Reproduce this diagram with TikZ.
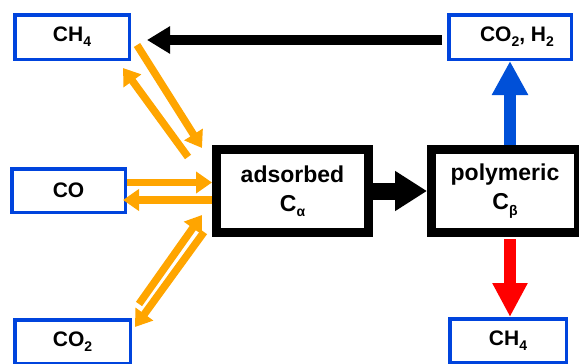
\documentclass[tikz,border=0pt]{standalone}
\usepackage{fontspec}
\setmainfont{Liberation Sans}
\usetikzlibrary{arrows.meta,calc}
\definecolor{boxblue}{RGB}{0,68,221}
\definecolor{arrblue}{RGB}{0,80,216}
\definecolor{flow}{RGB}{255,165,0}
% lowered, smaller index for chemical formulas
\newcommand\sbs[1]{\raisebox{-0.45ex}{\fontsize{14}{14}\selectfont #1}}

\begin{document}
\begin{tikzpicture}[x=1pt,y=-1pt,
  species/.style={draw=boxblue,line width=3.5pt,fill=white,inner sep=0pt,
    font=\fontsize{21}{26}\selectfont\bfseries},
  carbon/.style={draw=black,line width=9pt,inner sep=0pt,align=center,
    font=\fontsize{23}{29}\selectfont\bfseries},
  flowarrow/.style={draw=flow,line width=7.5pt,-{Triangle[length=16pt,width=21pt]}},
  mainarrow/.style={line width=10pt,-{Triangle[length=23pt,width=26pt]}}
]
\useasboundingbox (0,0) rectangle (579,364);

% gas-phase species
\node[species,minimum width=114.5pt,minimum height=44.5pt] (ch4a) at (72,37) {CH\sbs{4}};
\node[species,minimum width=113.5pt,minimum height=43.5pt] (co) at (68.5,190.5) {CO};
\node[species,minimum width=115.5pt,minimum height=43.5pt] (co2a) at (72.5,341.5) {CO\sbs{2}};
\node[species,minimum width=122.5pt,minimum height=44.5pt] (co2h2) at (510,37) {\hspace*{14pt}CO\sbs{2}, H\sbs{2}};
\node[species,minimum width=116.5pt,minimum height=43.5pt] (ch4b) at (508,340.5) {CH\sbs{4}};

% surface carbon
\node[carbon,minimum width=152pt,minimum height=83pt] (ads) at (292.5,191) {adsorbed\\C\sbs{α}};
\node[carbon,minimum width=147pt,minimum height=83pt] (poly) at (505,191) {polymeric\\C\sbs{β}};

% black transfers
\draw[mainarrow] ($(co2h2.west)+(-5,3)$) -- ($(ch4a.east)+(16,3)$);
\draw[line width=17pt,-{Triangle[length=32pt,width=38pt]}] (ads.east) -- (poly.west);

% products of the polymeric carbon
\draw[draw=arrblue,line width=12pt,-{Triangle[length=34pt,width=34pt]}]
  (co2h2.south |- poly.north) -- (co2h2.south);
\draw[draw=red,line width=12pt,-{Triangle[length=34pt,width=33pt]}]
  ($(co2h2.south |- poly.south)+(0,2)$) -- (co2h2.south |- ch4b.north);

% reversible exchange with the adsorbed carbon
\coordinate (a1) at (137,45);  \coordinate (a2) at (202,148);
\coordinate (b1) at (188,157); \coordinate (b2) at (123,68);
\draw[flowarrow] (a1) -- (a2);
\draw[flowarrow] (b1) -- (b2);

\draw[flowarrow] ($(co.east)+(0,-8)$) -- ($(ads.west)+(0,-8.5)$);
\draw[flowarrow] ($(ads.west)+(0,9)$) -- ($(co.east)+(-4,9.5)$);

\coordinate (c1) at (139,304); \coordinate (c2) at (202,215);
\coordinate (d1) at (204,232); \coordinate (d2) at (135,327);
\draw[flowarrow] (c1) -- (c2);
\draw[flowarrow] (d1) -- (d2);
\end{tikzpicture}
\end{document}
